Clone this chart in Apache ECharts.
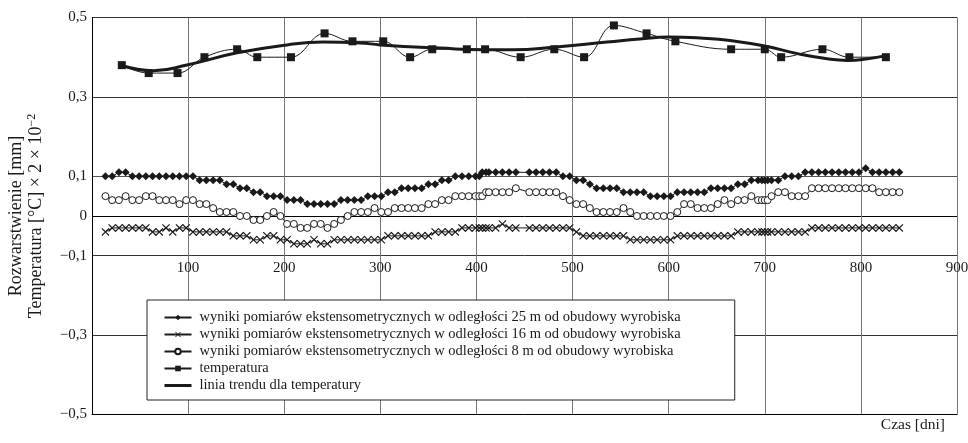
<!DOCTYPE html>
<html>
<head>
<meta charset="utf-8">
<script src="https://cdn.jsdelivr.net/npm/echarts@6/dist/echarts.min.js"></script>
<style>html,body{margin:0;padding:0;background:#fff;}#c{width:968px;height:443px;}</style>
</head>
<body>
<div id="c"></div>
<script>
// Measurement days shared by the three extensometer series
const days = [
  14,21,28,35,42,49,56,
  63,70,77,84,91,98,105,
  112,119,126,133,140,147,154,
  161,168,175,182,189,196,203,
  210,217,224,231,238,245,252,
  259,266,273,280,287,294,301,
  308,315,322,329,336,343,350,
  357,364,371,378,385,392,399,
  403,406,410,413,420,427,434,
  441,455,462,469,476,483,490,
  497,504,511,518,525,532,539,
  546,553,560,567,574,581,588,
  595,602,609,616,623,630,637,
  644,651,658,665,672,679,686,
  693,697,700,703,707,714,721,
  728,735,742,749,756,763,770,
  777,784,791,798,805,812,819,
  826,833,840
];
const d25 = [
  .10,.10,.11,.11,.10,.10,.10,
  .10,.10,.10,.10,.10,.10,.10,
  .09,.09,.09,.09,.08,.08,.07,
  .07,.06,.06,.05,.05,.05,.04,
  .04,.04,.03,.03,.03,.03,.03,
  .04,.04,.04,.04,.05,.05,.05,
  .06,.06,.07,.07,.07,.07,.08,
  .08,.09,.09,.10,.10,.10,.10,
  .10,.11,.11,.11,.11,.11,.11,
  .11,.11,.11,.11,.11,.11,.10,
  .10,.09,.09,.08,.07,.07,.07,
  .07,.06,.06,.06,.06,.05,.05,
  .05,.05,.06,.06,.06,.06,.06,
  .07,.07,.07,.07,.08,.08,.09,
  .09,.09,.09,.09,.09,.09,.10,
  .10,.10,.11,.11,.11,.11,.11,
  .11,.11,.11,.11,.12,.11,.11,
  .11,.11,.11
];
const d16 = [
  -.04,-.03,-.03,-.03,-.03,-.03,-.03,
  -.04,-.04,-.03,-.04,-.03,-.03,-.04,
  -.04,-.04,-.04,-.04,-.04,-.05,-.05,
  -.05,-.06,-.06,-.05,-.05,-.06,-.06,
  -.07,-.07,-.07,-.06,-.07,-.07,-.06,
  -.06,-.06,-.06,-.06,-.06,-.06,-.06,
  -.05,-.05,-.05,-.05,-.05,-.05,-.05,
  -.04,-.04,-.04,-.04,-.03,-.03,-.03,
  -.03,-.03,-.03,-.03,-.03,-.02,-.03,
  -.03,-.03,-.03,-.03,-.03,-.03,-.03,
  -.03,-.04,-.05,-.05,-.05,-.05,-.05,
  -.05,-.05,-.06,-.06,-.06,-.06,-.06,
  -.06,-.06,-.05,-.05,-.05,-.05,-.05,
  -.05,-.05,-.05,-.05,-.04,-.04,-.04,
  -.04,-.04,-.04,-.04,-.04,-.04,-.04,
  -.04,-.04,-.04,-.03,-.03,-.03,-.03,
  -.03,-.03,-.03,-.03,-.03,-.03,-.03,
  -.03,-.03,-.03
];
const d8 = [
  .05,.04,.04,.05,.04,.04,.05,
  .05,.04,.04,.04,.03,.04,.04,
  .03,.03,.02,.01,.01,.01,.00,
  .00,-.01,-.01,.00,.01,.00,-.02,
  -.02,-.03,-.03,-.02,-.02,-.03,-.02,
  -.01,.00,.01,.01,.01,.02,.01,
  .01,.02,.02,.02,.02,.02,.03,
  .03,.04,.04,.05,.05,.05,.05,
  .05,.05,.06,.06,.06,.06,.06,
  .07,.06,.06,.06,.06,.06,.05,
  .04,.03,.03,.02,.01,.01,.01,
  .01,.02,.01,.00,.00,.00,.00,
  .00,.00,.01,.03,.03,.02,.02,
  .02,.03,.04,.03,.04,.04,.05,
  .04,.04,.04,.04,.05,.06,.06,
  .05,.05,.05,.07,.07,.07,.07,
  .07,.07,.07,.07,.07,.07,.06,
  .06,.06,.06
];
// Temperature (scaled: °C × 2 × 10^-2)
const tempDays = [31,59,89,117,151,172,207,242,271,303,331,354,390,409,446,481,512,543,577,607,665,700,717,760,788,826];
const tempVals = [.38,.36,.36,.40,.42,.40,.40,.46,.44,.44,.40,.42,.42,.42,.40,.42,.40,.48,.46,.44,.42,.42,.40,.42,.40,.40];
// Trend line for temperature
const trendDays = [31,64,100,151,203,240,279,300,362,407,438,480,536,570,600,636,664,700,734,765,786,807,826];
const trendVals = [.379,.366,.381,.411,.431,.438,.436,.431,.423,.419,.419,.425,.438,.446,.451,.448,.442,.428,.409,.396,.392,.396,.404];

const yTickShown = [-5,-3,-1,0,1,3,5];
const seriesNames = [
  'wyniki pomiarów ekstensometrycznych w odległości 25 m od obudowy wyrobiska',
  'wyniki pomiarów ekstensometrycznych w odległości 16 m od obudowy wyrobiska',
  'wyniki pomiarów ekstensometrycznych w odległości 8 m od obudowy wyrobiska',
  'temperatura',
  'linia trendu dla temperatury'
];

const FONT = '"Liberation Serif", "Times New Roman", serif';
const INK = '#1a1a1a';
const zip = (xs, ys) => xs.map((x, i) => [x, ys[i]]);
const crossPath = 'path://M1,0 L5,4 L9,0 L10,1 L6,5 L10,9 L9,10 L5,6 L1,10 L0,9 L4,5 L0,1 Z';

const chart = echarts.init(document.getElementById('c'), null, {renderer: 'canvas'});
chart.setOption({
  animation: false,
  backgroundColor: '#fff',
  textStyle: {fontFamily: FONT, color: INK},
  grid: {left: 92, right: 11, top: 17.5, bottom: 28.5, outerBoundsMode: 'none', containLabel: false},
  title: {
    text: 'Czas [dni]', right: 23, top: 417, padding: 0,
    textStyle: {fontFamily: FONT, fontSize: 15.5, fontWeight: 'normal', color: INK}
  },
  legend: {
    orient: 'vertical', left: 147, top: 300,
    itemWidth: 27, itemHeight: 7, itemGap: 2,
    padding: [10, 54, 7, 16],
    borderColor: '#222', borderWidth: 1, backgroundColor: '#fff',
    textStyle: {fontFamily: FONT, fontSize: 14.5, color: INK, padding: [0, 0, 0, 3]},
    data: [
      seriesNames[0], seriesNames[1], seriesNames[2], seriesNames[3],
      {name: seriesNames[4], itemStyle: {opacity: 0}, lineStyle: {width: 3}}
    ]
  },
  xAxis: {
    type: 'value', min: 0, max: 900, interval: 100,
    axisLine: {onZero: false, lineStyle: {color: '#000', width: 1}},
    axisTick: {show: false},
    axisLabel: {
      inside: true, margin: 139, fontSize: 15, fontFamily: FONT, color: INK,
      formatter: v => (v === 0 ? '' : String(v))
    },
    splitLine: {show: true, lineStyle: {color: '#777', width: 1}}
  },
  yAxis: {
    type: 'value', min: -0.5, max: 0.5, interval: 0.1,
    axisLine: {show: true, onZero: false, lineStyle: {color: '#000', width: 1}},
    axisTick: {show: false},
    axisLabel: {
      margin: 5, fontSize: 15, fontFamily: FONT, color: INK,
      formatter: v => {
        const k = Math.round(v * 10);
        if (yTickShown.indexOf(k) < 0) return '';
        if (k === 0) return '0';
        return (k < 0 ? '\u2212' : '') + '0,' + Math.abs(k);
      }
    },
    splitLine: {
      show: true,
      lineStyle: {
        width: 1,
        color: ['#333', 'rgba(0,0,0,0)', '#333', 'rgba(0,0,0,0)', '#333', '#000', '#555', 'rgba(0,0,0,0)', '#333', 'rgba(0,0,0,0)', '#333']
      }
    },
    name: '{a|Rozwarstwienie [mm]}\n{a|Temperatura [°C] × 2 × 10}{s|\u22122}',
    nameLocation: 'middle', nameRotate: 90, nameGap: 46,
    nameTextStyle: {
      fontFamily: FONT, color: INK,
      rich: {
        a: {fontFamily: FONT, fontSize: 18, lineHeight: 20, color: INK},
        s: {fontFamily: FONT, fontSize: 12, lineHeight: 12, verticalAlign: 'top', color: INK}
      }
    }
  },
  series: [
    {
      name: seriesNames[0], type: 'line', data: zip(days, d25),
      symbol: 'diamond', symbolSize: 8,
      itemStyle: {color: INK}, lineStyle: {color: INK, width: 1}, z: 3
    },
    {
      name: seriesNames[1], type: 'line', data: zip(days, d16),
      symbol: crossPath, symbolSize: 8,
      itemStyle: {color: INK}, lineStyle: {color: INK, width: 1}, z: 3
    },
    {
      name: seriesNames[2], type: 'line', data: zip(days, d8),
      symbol: 'circle', symbolSize: 7,
      itemStyle: {color: '#fff', borderColor: INK, borderWidth: 1},
      lineStyle: {color: INK, width: 1}, z: 3
    },
    {
      name: seriesNames[3], type: 'line', data: zip(tempDays, tempVals),
      symbol: 'rect', symbolSize: 8, smooth: 0.4,
      itemStyle: {color: INK}, lineStyle: {color: INK, width: 1}, z: 4
    },
    {
      name: seriesNames[4], type: 'line', data: zip(trendDays, trendVals),
      symbol: 'none', showSymbol: false, smooth: 0.5,
      itemStyle: {color: INK}, lineStyle: {color: INK, width: 3}, z: 5
    }
  ]
});
</script>
</body>
</html>
